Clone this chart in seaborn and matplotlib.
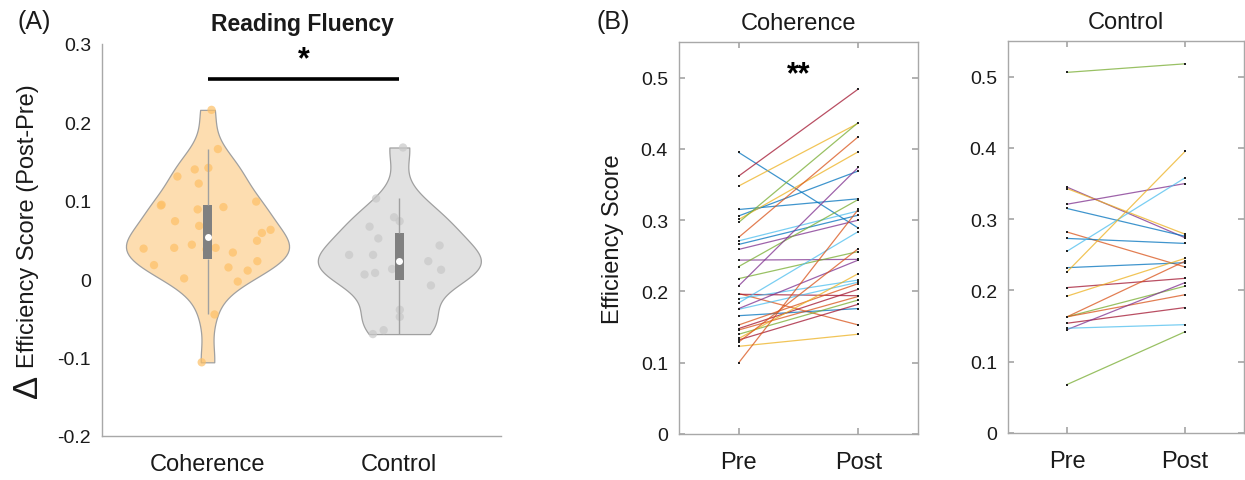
import numpy as np
import pandas as pd
import matplotlib
matplotlib.use("Agg")
import matplotlib.pyplot as plt
import seaborn as sns

# ---------------- data ----------------
groups = ["Coherence", "Control"]
delta_coherence = [0.216, 0.166, 0.142, 0.140, 0.131, 0.122, 0.089, 0.094, 0.095, 0.099,
                   0.092, 0.074, 0.068, 0.063, 0.059, 0.049, 0.044, 0.038, 0.034, 0.039,
                   0.040, 0.040, 0.023, 0.018, 0.015, 0.011, 0.001, -0.003, -0.045, -0.106]
delta_control = [0.168, 0.103, 0.074, 0.079, 0.067, 0.052, 0.043, 0.031, 0.031, 0.023,
                 0.013, 0.012, 0.006, 0.008, -0.008, -0.039, -0.048, -0.065, -0.070]

time_labels = ["Pre", "Post"]
coh_pre = [0.395, 0.362, 0.348, 0.315, 0.306, 0.301, 0.297, 0.276, 0.271, 0.266, 0.259,
           0.244, 0.235, 0.218, 0.208, 0.197, 0.196, 0.190, 0.184, 0.175, 0.176, 0.166,
           0.153, 0.148, 0.146, 0.140, 0.134, 0.132, 0.129, 0.123, 0.100]
coh_post = [0.289, 0.484, 0.436, 0.330, 0.369, 0.396, 0.437, 0.417, 0.313, 0.307, 0.300,
            0.245, 0.329, 0.256, 0.374, 0.153, 0.194, 0.216, 0.284, 0.213, 0.244, 0.176,
            0.211, 0.203, 0.193, 0.188, 0.225, 0.182, 0.260, 0.140, 0.315]
coh_color = ["B", "DR", "Y", "B", "B", "Y", "G", "O", "LB", "B", "P",
             "P", "G", "G", "P", "O", "DR", "LB", "LB", "LB", "P", "B",
             "O", "DR", "O", "G", "Y", "DR", "O", "Y", "O"]

ctl_pre = [0.506, 0.345, 0.343, 0.321, 0.315, 0.282, 0.273, 0.255, 0.232, 0.226,
           0.204, 0.192, 0.163, 0.163, 0.163, 0.154, 0.145, 0.147, 0.068]
ctl_post = [0.518, 0.274, 0.279, 0.350, 0.276, 0.233, 0.266, 0.358, 0.239, 0.395,
            0.217, 0.245, 0.241, 0.206, 0.194, 0.176, 0.211, 0.152, 0.142]
ctl_color = ["G", "P", "Y", "P", "B", "O", "B", "LB", "B", "Y",
             "DR", "Y", "O", "G", "O", "DR", "P", "LB", "G"]

line_palette = {"B": "#0072BD", "O": "#D95319", "Y": "#EDB120", "P": "#7E2F8E",
                "G": "#77AC30", "LB": "#4DBEEE", "DR": "#A2142F"}

# ---------------- style ----------------
sns.set_theme(style="white")
plt.rcParams["font.family"] = ["Liberation Sans", "DejaVu Sans"]
TXT = "#1a1a1a"
AXC = "#A8A8A8"

fig = plt.figure(figsize=(12.45, 4.81), dpi=100)
W, H = 1245.0, 481.0

def box(l, r, t, b):
    return [l / W, 1 - b / H, (r - l) / W, (b - t) / H]

# ---------------- panel A ----------------
BW_ADJ = 0.75
axA = fig.add_axes(box(102, 501, 45, 437))
dfA = pd.DataFrame({
    "group": [groups[0]] * len(delta_coherence) + [groups[1]] * len(delta_control),
    "delta": delta_coherence + delta_control,
})
sns.violinplot(data=dfA, x="group", y="delta", hue="group", order=groups, hue_order=groups,
               palette={"Coherence": "#FDDDB0", "Control": "#E1E1E1"}, saturation=1,
               cut=0, density_norm="width", width=0.85, inner=None, linewidth=0.9,
               linecolor="#A0A0A0", bw_adjust=BW_ADJ, legend=False, ax=axA)

n_before = len(axA.collections)
sns.stripplot(data=dfA, x="group", y="delta", hue="group", order=groups, hue_order=groups,
              palette={"Coherence": "#FDC066", "Control": "#C8C8C8"}, jitter=False,
              size=6, alpha=0.7, linewidth=0, legend=False, ax=axA, zorder=3)
# density-scaled jitter (as in MATLAB Violinplot): spread points inside the violin
rng = np.random.default_rng(5)
for col in axA.collections[n_before:]:
    off = np.array(col.get_offsets(), dtype=float)
    if len(off) == 0:
        continue
    yv = off[:, 1]
    bw = BW_ADJ * yv.std(ddof=1) * len(yv) ** (-0.2)
    grid = np.linspace(yv.min(), yv.max(), 200)
    dens = lambda p: np.exp(-0.5 * ((np.atleast_1d(p)[:, None] - yv[None, :]) / bw) ** 2).sum(1)
    dmax = dens(grid).max()
    pos = np.round(off[:, 0].mean())
    off[:, 0] = pos + rng.uniform(-1, 1, len(yv)) * 0.38 * dens(yv) / dmax
    col.set_offsets(off)

sns.boxplot(data=dfA, x="group", y="delta", order=groups, width=0.045, color="#808080",
            saturation=1, showcaps=False, showfliers=False, whis=1.5,
            boxprops=dict(facecolor="#808080", edgecolor="#808080", linewidth=0),
            whiskerprops=dict(color="#A0A0A0", linewidth=1),
            medianprops=dict(linewidth=0), ax=axA, zorder=4)
sns.pointplot(data=dfA, x="group", y="delta", order=groups, estimator="median",
              errorbar=None, color="white", markers="o", linestyles="none",
              markersize=5, markeredgewidth=0, ax=axA, zorder=5)

axA.set_xlim(-0.55, 1.53)
axA.set_ylim(-0.2, 0.3)
yt = np.round(np.arange(-0.2, 0.3001, 0.05), 2)
axA.set_yticks(yt)
axA.set_yticklabels([("0" if v == 0 else f"{v:g}") if abs(round(v * 10) - v * 10) < 1e-6 else "" for v in yt])
axA.set_xticks([0, 1])
axA.set_xticklabels(groups)
axA.set_xlabel("")
axA.set_ylabel("")
for s in ["top", "right"]:
    axA.spines[s].set_visible(False)
for s in ["left", "bottom"]:
    axA.spines[s].set_color(AXC)
    axA.spines[s].set_linewidth(1)
axA.tick_params(axis="both", direction="in", length=4, color=AXC, labelcolor=TXT)
axA.tick_params(axis="y", labelsize=14, pad=8)
axA.tick_params(axis="x", labelsize=17, pad=12)

axA.plot([0, 1], [0.255, 0.255], color="black", lw=2.6, solid_capstyle="butt")
axA.text(0.5, 0.262, "*", ha="center", va="bottom", fontsize=22, fontweight="bold", color="black")

fig.text(28 / W, 1 - 226 / H, "Efficiency Score (Post-Pre)", rotation=90, ha="center",
         va="center", fontsize=17, color=TXT)
fig.text(27 / W, 1 - 386 / H, "\u0394", rotation=90, ha="center", va="center",
         fontsize=25, color=TXT)
fig.text(302 / W, 1 - 24 / H, "Reading Fluency", ha="center", va="center",
         fontsize=16.5, fontweight="bold", color=TXT)
fig.text(34 / W, 1 - 22 / H, "(A)", ha="center", va="center", fontsize=18, color=TXT)
fig.text(613 / W, 1 - 22 / H, "(B)", ha="center", va="center", fontsize=18, color=TXT)

# ---------------- panel B ----------------
def long_df(pre, post, cols, tag):
    rows = []
    for i, (a, b, c) in enumerate(zip(pre, post, cols)):
        sid = f"{tag}{i:02d}"
        rows.append((sid, 1, a, c))
        rows.append((sid, 2, b, c))
    return pd.DataFrame(rows, columns=["subject", "time", "score", "ckey"])

def pair_panel(ax, pre, post, cols, tag, title):
    d = long_df(pre, post, cols, tag)
    pal = {f"{tag}{i:02d}": line_palette[c] for i, c in enumerate(cols)}
    sns.lineplot(data=d, x="time", y="score", hue="subject", palette=pal, estimator=None,
                 units="subject", lw=0.9, alpha=0.75, legend=False, ax=ax)
    sns.scatterplot(data=d, x="time", y="score", color="#222222", s=3, marker="s",
                    linewidth=0, legend=False, ax=ax, zorder=5)
    ax.set_xlim(0.5, 2.5)
    ax.set_ylim(0, 0.55)
    ax.set_xticks([1, 2])
    ax.set_xticklabels(time_labels)
    ax.set_yticks(np.round(np.arange(0, 0.51, 0.1), 1))
    ax.set_yticklabels(["0", "0.1", "0.2", "0.3", "0.4", "0.5"])
    ax.set_xlabel("")
    ax.set_ylabel("")
    for s in ax.spines.values():
        s.set_visible(True)
        s.set_color(AXC)
        s.set_linewidth(1)
    ax.tick_params(axis="both", direction="in", length=4, color=AXC, labelcolor=TXT,
                   top=True, right=True, bottom=True, left=True)
    ax.tick_params(axis="y", labelsize=14, pad=8)
    ax.tick_params(axis="x", labelsize=17, pad=12)
    ax.set_title(title, fontsize=17, color=TXT, pad=9)

axB1 = fig.add_axes(box(679, 918, 43, 435))
pair_panel(axB1, coh_pre, coh_post, coh_color, "c", "Coherence")
axB1.set_ylabel("Efficiency Score", fontsize=17, color=TXT, labelpad=12)
axB1.text(1.5, 0.505, "**", ha="center", va="center", fontsize=22, fontweight="bold", color="black")

axB2 = fig.add_axes(box(1008, 1244, 42, 434))
pair_panel(axB2, ctl_pre, ctl_post, ctl_color, "k", "Control")

fig.savefig("out.png", dpi=100)
